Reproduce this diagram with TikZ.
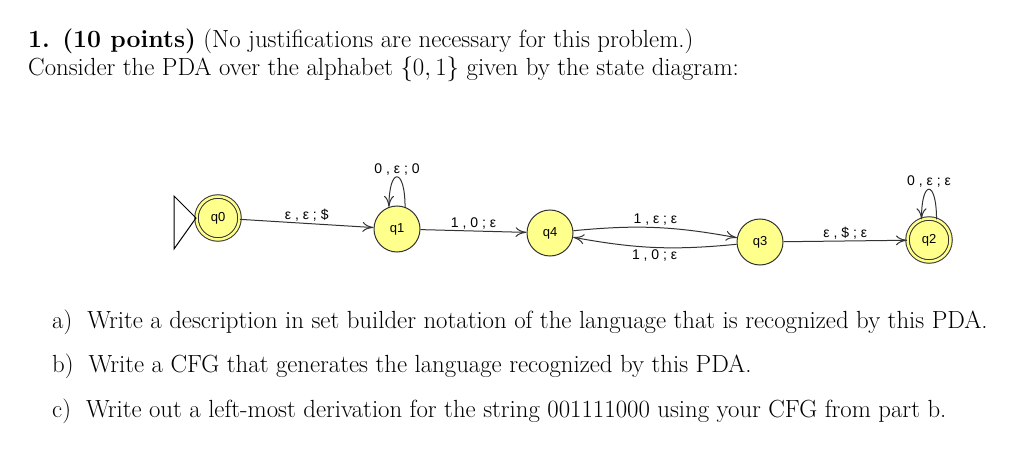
\documentclass[tikz,border=0pt]{standalone}
\usepackage{fontspec}
\newfontfamily\dia{Liberation Sans}
\usetikzlibrary{arrows.meta}
\definecolor{sfill}{RGB}{255,255,140}
\begin{document}
\begin{tikzpicture}[x=1pt,y=-1pt,
  st/.style={circle,draw=black!80,fill=sfill,minimum size=46pt,inner sep=0pt,font=\dia\fontsize{13}{15}\selectfont,line width=1pt},
  acc/.style={st,double=sfill,double distance=2.5pt,minimum size=43pt},
  lab/.style={font=\dia\fontsize{14}{16}\selectfont,inner sep=1.5pt},
  txt/.style={anchor=west,inner sep=0pt,font=\fontsize{24.8}{29}\selectfont},
  ar/.style={draw=black!80,line width=1pt,-{To[length=11pt,width=10pt]}}]
\useasboundingbox (0,0) rectangle (1024,462);
\node[txt] (t1) at (28,41) {\textbf{1. (10 points)} (No justifications are necessary for this problem.)};
\node[txt] (t2) at (28,69) {Consider the PDA over the alphabet $\{0,1\}$ given by the state diagram:};
\node[txt] (ta) at (52,322) {a)\ \ Write a description in set builder notation of the language that is recognized by this PDA.};
\node[txt] (tb) at (52,366) {b)\ \ Write a CFG that generates the language recognized by this PDA.};
\node[txt] (tc) at (52,411) {c)\ \ Write out a left-most derivation for the string 001111000 using your CFG from part b.};
\node[acc] (q0) at (218,218) {q0};
\node[st] (q1) at (397,229) {q1};
\node[st] (q4) at (550,233) {q4};
\node[st] (q3) at (760,242) {q3};
\node[acc] (q2) at (929,240) {q2};
\coordinate (ia) at (174,196); \coordinate (ib) at (174,249);
\draw[line width=1pt] (ia) -- (q0.west) -- (ib) -- cycle;
\draw[ar] (q0) -- node[lab,above] {ε , ε ; \$} (q1);
\draw[ar] (q1) -- node[lab,above] {1 , 0 ; ε} (q4);
\draw[ar] (q4) to[bend left=8] node[lab,above] {1 , ε ; ε} (q3);
\draw[ar] (q3) to[bend left=8] node[lab,below] {1 , 0 ; ε} (q4);
\draw[ar] (q3) -- node[lab,above] {ε , \$ ; ε} (q2);
\draw[ar] (q1.70) .. controls +(0,-40) and +(0,-40) .. node[lab,above] {0 , ε ; 0} (q1.110);
\draw[ar] (q2.70) .. controls +(0,-40) and +(0,-40) .. node[lab,above] {0 , ε ; ε} (q2.110);
\end{tikzpicture}
\end{document}
